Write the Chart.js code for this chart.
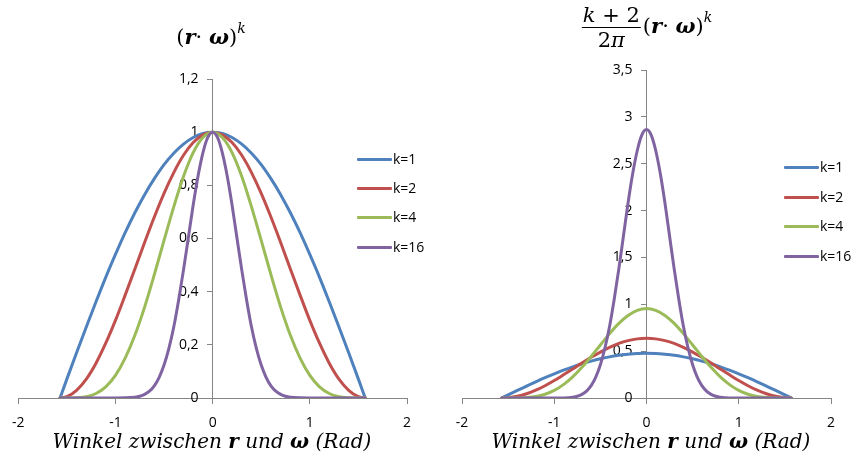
<!DOCTYPE html>
<html><head><meta charset="utf-8">
<script src="https://cdn.jsdelivr.net/npm/chart.js@4/dist/chart.umd.min.js"></script>
<style>
body{margin:0;background:#fff;}
#wrap{position:relative;width:851px;height:455px;overflow:hidden;}
canvas{position:absolute;top:0;}
.leg{position:absolute;height:20px;font:14px 'Open Sans',sans-serif;color:#000;white-space:nowrap;}
.leg .sw{position:absolute;left:0;top:9px;width:35px;height:3px;border-radius:1px;}
.leg .tx{position:absolute;left:36px;top:0;line-height:20px;}
.math{position:absolute;font-family:'DejaVu Serif',serif;color:#000;white-space:nowrap;transform:translateX(-50%);}
.axt{position:absolute;font-family:'DejaVu Serif',serif;font-style:italic;font-size:20px;color:#000;white-space:nowrap;transform:translateX(-50%);}
.axt b{font-style:italic;}
.frac{display:inline-block;vertical-align:middle;text-align:center;margin-right:2px;}
.frac .num{display:block;padding:0 1px 2px;border-bottom:1.3px solid #000;line-height:20px;}
.frac .den{display:block;padding-top:2px;line-height:20px;}
</style></head><body>
<div id="wrap">
<canvas id="c1" width="425" height="455" style="left:0"></canvas>
<canvas id="c2" width="426" height="455" style="left:425px"></canvas>

<div class="math" style="left:211px;top:19px;font-size:21px;line-height:24px;">(<b><i>r</i></b>·&nbsp;<b><i>ω</i></b>)<sup style="font-size:14px;position:relative;top:-3px;"><i>k</i></sup></div>

<div class="math" style="left:647px;top:5px;font-size:21px;line-height:24px;"><span class="frac"><span class="num"><i>k</i> + 2</span><span class="den">2<i>π</i></span></span>(<b><i>r</i></b>·&nbsp;<b><i>ω</i></b>)<sup style="font-size:14px;position:relative;top:-3px;"><i>k</i></sup></div>

<div class="axt" style="left:212px;top:429px;">Winkel zwischen <b>r</b> und <b>ω</b> (Rad)</div>
<div class="axt" style="left:651px;top:429px;">Winkel zwischen <b>r</b> und <b>ω</b> (Rad)</div>
<div id="legends"></div>
</div>
<script>
// ---- data ----
const seriesNames = ['k=1', 'k=2', 'k=4', 'k=16'];
const xTicksLabels = [-2, -1, 0, 1, 2];

const angles = [-1.57, -1.5, -1.4, -1.3, -1.2, -1.1, -1.0, -0.9, -0.8, -0.7, -0.6, -0.5, -0.4, -0.3, -0.2, -0.1, 0,
                0.1, 0.2, 0.3, 0.4, 0.5, 0.6, 0.7, 0.8, 0.9, 1.0, 1.1, 1.2, 1.3, 1.4, 1.5, 1.57];
const anglesFine = [-1.57, -1.3, -1.0, -0.9, -0.8, -0.75, -0.7, -0.65, -0.6, -0.55, -0.5, -0.45, -0.4, -0.35, -0.3, -0.25, -0.2, -0.15, -0.1, -0.05, 0,
                    0.05, 0.1, 0.15, 0.2, 0.25, 0.3, 0.35, 0.4, 0.45, 0.5, 0.55, 0.6, 0.65, 0.7, 0.75, 0.8, 0.9, 1.0, 1.3, 1.57];

// left panel: (r·ω)^k
const leftK1 = [0, 0.071, 0.170, 0.267, 0.362, 0.454, 0.540, 0.622, 0.697, 0.765, 0.825, 0.878, 0.921, 0.955, 0.980, 0.995, 1,
                0.995, 0.980, 0.955, 0.921, 0.878, 0.825, 0.765, 0.697, 0.622, 0.540, 0.454, 0.362, 0.267, 0.170, 0.071, 0];
const leftK2 = [0, 0.005, 0.029, 0.071, 0.131, 0.206, 0.292, 0.387, 0.485, 0.585, 0.681, 0.770, 0.848, 0.913, 0.961, 0.990, 1,
                0.990, 0.961, 0.913, 0.848, 0.770, 0.681, 0.585, 0.485, 0.387, 0.292, 0.206, 0.131, 0.071, 0.029, 0.005, 0];
const leftK4 = [0, 0, 0.001, 0.005, 0.017, 0.042, 0.085, 0.150, 0.236, 0.342, 0.464, 0.593, 0.719, 0.833, 0.923, 0.980, 1,
                0.980, 0.923, 0.833, 0.719, 0.593, 0.464, 0.342, 0.236, 0.150, 0.085, 0.042, 0.017, 0.005, 0.001, 0, 0];
const leftK16 = [0, 0, 0, 0.0005, 0.0031, 0.0067, 0.0137, 0.026, 0.046, 0.078, 0.124, 0.187, 0.267, 0.368, 0.481, 0.603, 0.726, 0.835, 0.922, 0.980, 1,
                 0.980, 0.922, 0.835, 0.726, 0.603, 0.481, 0.368, 0.267, 0.187, 0.124, 0.078, 0.046, 0.026, 0.0137, 0.0067, 0.0031, 0.0005, 0, 0, 0];

// right panel: (k+2)/(2π) (r·ω)^k
const rightK1 = [0, 0.034, 0.081, 0.127, 0.173, 0.217, 0.258, 0.297, 0.332, 0.365, 0.394, 0.419, 0.439, 0.456, 0.467, 0.475, 0.477,
                 0.475, 0.467, 0.456, 0.439, 0.419, 0.394, 0.365, 0.332, 0.297, 0.258, 0.217, 0.173, 0.127, 0.081, 0.034, 0];
const rightK2 = [0, 0.003, 0.018, 0.045, 0.083, 0.131, 0.186, 0.247, 0.309, 0.373, 0.434, 0.490, 0.540, 0.582, 0.612, 0.631, 0.637,
                 0.631, 0.612, 0.582, 0.540, 0.490, 0.434, 0.373, 0.309, 0.247, 0.186, 0.131, 0.083, 0.045, 0.018, 0.003, 0];
const rightK4 = [0, 0, 0.001, 0.005, 0.016, 0.040, 0.081, 0.143, 0.225, 0.327, 0.443, 0.566, 0.687, 0.796, 0.881, 0.936, 0.955,
                 0.936, 0.881, 0.796, 0.687, 0.566, 0.443, 0.327, 0.225, 0.143, 0.081, 0.040, 0.016, 0.005, 0.001, 0, 0];
const rightK16 = [0, 0, 0, 0.001, 0.009, 0.019, 0.039, 0.074, 0.132, 0.223, 0.355, 0.536, 0.765, 1.054, 1.378, 1.728, 2.080, 2.392, 2.641, 2.808, 2.865,
                  2.808, 2.641, 2.392, 2.080, 1.728, 1.378, 1.054, 0.765, 0.536, 0.355, 0.223, 0.132, 0.074, 0.039, 0.019, 0.009, 0.001, 0, 0, 0];

// ---- styling ----
const colors = ['#4F81BD', '#C0504D', '#9BBB59', '#8064A2'];
const axisGray = '#868686';

function pts(xs, ys) { return xs.map((x, i) => ({x: x, y: ys[i]})); }

function makeDatasets(series) {
  return series.map((s, i) => ({
    label: seriesNames[i],
    data: pts(s.x, s.y),
    borderColor: colors[i],
    backgroundColor: colors[i],
    borderWidth: 3,
    pointRadius: 0,
    showLine: true,
    fill: false,
    cubicInterpolationMode: 'monotone',
    order: 4 - i,
    borderCapStyle: 'round',
    borderJoinStyle: 'round'
  }));
}

// German decimal comma; trailing em space keeps the label clear of the centred axis
function fmt(v) { return String(Math.round(v * 10) / 10).replace('.', ',') + '\u2003'; }

function makeChart(id, series, yMax, yStep, pad) {
  return new Chart(document.getElementById(id), {
    type: 'scatter',
    data: {datasets: makeDatasets(series)},
    options: {
      responsive: false,
      animation: false,
      devicePixelRatio: 1,
      layout: {padding: pad},
      plugins: {legend: {display: false}, tooltip: {enabled: false}, title: {display: false}},
      scales: {
        x: {
          type: 'linear', min: -2, max: 2,
          position: {y: 0},
          afterFit: s => { s.height = 0; },
          afterBuildTicks: s => { s.ticks = xTicksLabels.map(v => ({value: v})); },
          grid: {drawOnChartArea: false, drawTicks: true, tickLength: 5, color: axisGray},
          border: {display: true, color: axisGray, width: 1},
          ticks: {color: '#000', font: {family: 'Open Sans', size: 14}, padding: 12, maxRotation: 0,
                  callback: v => String(v)}
        },
        y: {
          type: 'linear', min: 0, max: yMax,
          position: {x: 0},
          afterFit: s => { s.width = 0; },
          grid: {drawOnChartArea: false, drawTicks: true, tickLength: 5, color: axisGray},
          border: {display: true, color: axisGray, width: 1},
          ticks: {stepSize: yStep, color: '#000', font: {family: 'Open Sans', size: 14}, padding: 4,
                  callback: v => fmt(v)}
        }
      }
    }
  });
}

makeChart('c1', [
  {x: angles, y: leftK1}, {x: angles, y: leftK2}, {x: angles, y: leftK4}, {x: anglesFine, y: leftK16}
], 1.2, 0.2, {left: 16, right: 18, top: 79, bottom: 57});

makeChart('c2', [
  {x: angles, y: rightK1}, {x: angles, y: rightK2}, {x: angles, y: rightK4}, {x: anglesFine, y: rightK16}
], 3.5, 0.5, {left: 37, right: 20, top: 70, bottom: 57});

// legends (HTML text, built from series names)
const legPos = [{x: 357, ys: [159, 188, 217, 247]}, {x: 784, ys: [167, 197, 226, 256]}];
const lg = document.getElementById('legends');
legPos.forEach(p => {
  seriesNames.forEach((n, i) => {
    const d = document.createElement('div');
    d.className = 'leg';
    d.style.left = p.x + 'px';
    d.style.top = (p.ys[i] - 10) + 'px';
    d.innerHTML = '<span class="sw" style="background:' + colors[i] + '"></span><span class="tx">' + n + '</span>';
    lg.appendChild(d);
  });
});
</script>
</body></html>
